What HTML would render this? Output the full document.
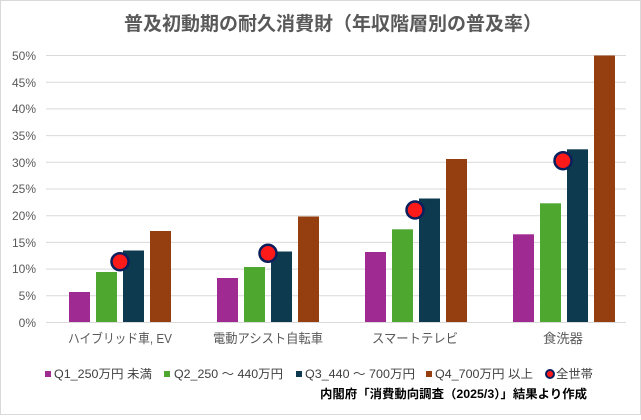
<!DOCTYPE html>
<html><head><meta charset="utf-8"><style>
body{margin:0;background:#fff}
svg text{font-family:"Liberation Sans","Noto Sans CJK JP",sans-serif}
</style></head><body>
<svg width="641" height="415" viewBox="0 0 641 415" xmlns="http://www.w3.org/2000/svg">
<rect x="0.5" y="0.5" width="640" height="414" fill="#fff" stroke="#d9d9d9"/>
<text x="333" y="30" text-anchor="middle" font-size="19" font-weight="bold" fill="#595959">普及初動期の耐久消費財（年収階層別の普及率）</text>
<g stroke="#d9d9d9" stroke-width="1">
<line x1="46" x2="626" y1="55.5" y2="55.5"/><line x1="46" x2="626" y1="82.2" y2="82.2"/>
<line x1="46" x2="626" y1="108.9" y2="108.9"/><line x1="46" x2="626" y1="135.6" y2="135.6"/>
<line x1="46" x2="626" y1="162.3" y2="162.3"/><line x1="46" x2="626" y1="189" y2="189"/>
<line x1="46" x2="626" y1="215.7" y2="215.7"/><line x1="46" x2="626" y1="242.4" y2="242.4"/>
<line x1="46" x2="626" y1="269.1" y2="269.1"/><line x1="46" x2="626" y1="295.8" y2="295.8"/>
<line x1="46" x2="626" y1="322.5" y2="322.5"/>
</g>
<g font-size="12" fill="#595959" text-anchor="end">
<text x="36" y="60">50%</text><text x="36" y="87">45%</text><text x="36" y="113">40%</text>
<text x="36" y="140">35%</text><text x="36" y="167">30%</text><text x="36" y="193">25%</text>
<text x="36" y="220">20%</text><text x="36" y="247">15%</text><text x="36" y="273">10%</text>
<text x="36" y="300">5%</text><text x="36" y="327">0%</text>
</g>
<g>
<rect x="69" y="292" width="21" height="30" fill="#9e2a92"/>
<rect x="96" y="272" width="21" height="50" fill="#4ea72e"/>
<rect x="123" y="250.5" width="21" height="71.5" fill="#0e3a4f"/>
<rect x="150" y="231" width="21" height="91" fill="#953f10"/>
<rect x="217" y="278" width="21" height="44" fill="#9e2a92"/>
<rect x="244" y="267" width="21" height="55" fill="#4ea72e"/>
<rect x="271" y="251.5" width="21" height="70.5" fill="#0e3a4f"/>
<rect x="298" y="216.5" width="21" height="105.5" fill="#953f10"/>
<rect x="365" y="252" width="21" height="70" fill="#9e2a92"/>
<rect x="392" y="229.3" width="21" height="92.7" fill="#4ea72e"/>
<rect x="419" y="198.5" width="21" height="123.5" fill="#0e3a4f"/>
<rect x="446" y="159" width="21" height="163" fill="#953f10"/>
<rect x="513" y="234.3" width="21" height="87.7" fill="#9e2a92"/>
<rect x="540" y="203.3" width="21" height="118.7" fill="#4ea72e"/>
<rect x="567" y="149.3" width="21" height="172.7" fill="#0e3a4f"/>
<rect x="594" y="55.5" width="21" height="266.5" fill="#953f10"/>
</g>
<g fill="#ff1a1a" stroke="#0b1f5c" stroke-width="2.5">
<circle cx="120" cy="261.7" r="8.5"/><circle cx="268" cy="253.3" r="8.5"/>
<circle cx="415" cy="210" r="8.5"/><circle cx="563" cy="160.7" r="8.5"/>
</g>
<g font-size="13" fill="#595959">
<text x="68" y="343" textLength="104" lengthAdjust="spacingAndGlyphs">ハイブリッド車, EV</text>
<text x="213" y="343" textLength="110" lengthAdjust="spacingAndGlyphs">電動アシスト自転車</text>
<text x="372" y="343" textLength="86" lengthAdjust="spacingAndGlyphs">スマートテレビ</text>
<text x="543" y="343" textLength="40" lengthAdjust="spacingAndGlyphs">食洗器</text>
</g>
<g font-size="12" fill="#404040">
<rect x="45" y="371" width="6" height="6" fill="#9e2a92"/><text x="54" y="378" textLength="98" lengthAdjust="spacingAndGlyphs">Q1_250万円 未満</text>
<rect x="164" y="371" width="6" height="6" fill="#4ea72e"/><text x="174" y="378" textLength="109" lengthAdjust="spacingAndGlyphs">Q2_250 ～ 440万円</text>
<rect x="296" y="371" width="6" height="6" fill="#0e3a4f"/><text x="305" y="378" textLength="110" lengthAdjust="spacingAndGlyphs">Q3_440 ～ 700万円</text>
<rect x="426" y="371" width="6" height="6" fill="#953f10"/><text x="435" y="378" textLength="98" lengthAdjust="spacingAndGlyphs">Q4_700万円 以上</text>
<circle cx="550" cy="374" r="4" fill="#ff1a1a" stroke="#0b1f5c" stroke-width="2"/><text x="556" y="378" textLength="37" lengthAdjust="spacingAndGlyphs">全世帯</text>
</g>
<text x="320" y="398" font-size="12" font-weight="bold" fill="#000" textLength="267" lengthAdjust="spacingAndGlyphs">内閣府「消費動向調査（2025/3）」結果より作成</text>
</svg>
</body></html>
